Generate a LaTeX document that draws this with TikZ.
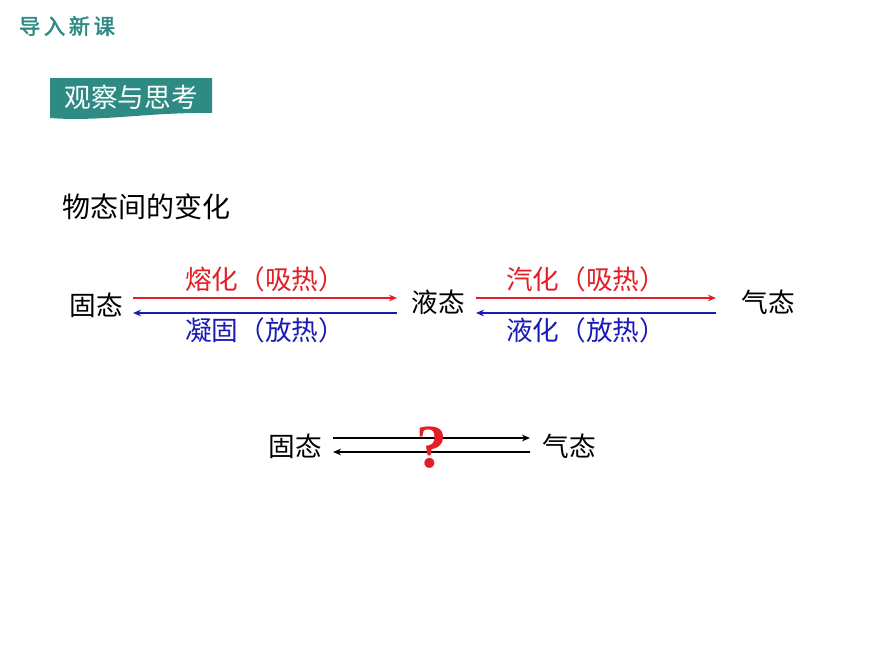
\documentclass[tikz,border=0pt]{standalone}
\usepackage{fontspec}
\setmainfont{Liberation Serif}
\newfontfamily\cjk{Noto Sans CJK SC}
\newfontfamily\cjkb{Noto Sans CJK SC}[FakeBold=2]
\definecolor{teal1}{HTML}{2E8B84}
\definecolor{myred}{HTML}{E31E24}
\definecolor{myblue}{HTML}{1A1AB8}
\tikzset{lbl/.style={font=\cjk\fontsize{20}{22}\selectfont,inner sep=0pt},
 ar/.style={-{Stealth[length=6pt,width=5pt]},line width=1.2pt}}
\usetikzlibrary{arrows.meta}
\begin{document}
\begin{tikzpicture}[x=0.75pt,y=-0.75pt]
\useasboundingbox (0,0) rectangle (870,653);
\node[font=\cjkb\fontsize{16}{17}\selectfont,text=teal1,inner sep=0pt] (hd) at (67,26) {导\,入\,新\,课};
\fill[teal1] (50,78) -- (212,78) -- (212,113) .. controls (150,112) and (100,122) .. (50,118) -- cycle;
\node[font=\cjk\fontsize{20}{22}\selectfont,text=white,inner sep=0pt] (tt) at (131,97) {观察与思考};
\node[lbl,font=\cjk\fontsize{21}{22}\selectfont,anchor=west] (t1) at (62,207) {物态间的变化};
\node[lbl] (g1) at (96,305) {固态};
\node[lbl] (y1) at (438,302) {液态};
\node[lbl] (q1) at (768,302) {气态};
\coordinate (a1) at (133,298); \coordinate (a2) at (397,298);
\coordinate (b1) at (133,313); \coordinate (b2) at (397,313);
\draw[ar,myred] (a1) -- (a2);
\draw[ar,myblue] (b2) -- (b1);
\node[lbl,text=myred] (l1) at (265,279) {熔化（吸热）};
\node[lbl,text=myblue] (l2) at (265,330) {凝固（放热）};
\coordinate (c1) at (476,298); \coordinate (c2) at (716,298);
\coordinate (d1) at (476,313); \coordinate (d2) at (716,313);
\draw[ar,myred] (c1) -- (c2);
\draw[ar,myblue] (d2) -- (d1);
\node[lbl,text=myred] (l3) at (586,279) {汽化（吸热）};
\node[lbl,text=myblue] (l4) at (586,330) {液化（放热）};
\node[lbl] (g2) at (295,446) {固态};
\node[lbl] (q2) at (569,446) {气态};
\coordinate (e1) at (333,438); \coordinate (e2) at (530,438);
\coordinate (f1) at (333,452); \coordinate (f2) at (530,452);
\draw[ar,line width=0.9pt] (e1) -- (e2);
\draw[ar,line width=0.9pt] (f2) -- (f1);
\node[font=\bfseries\fontsize{46}{46}\selectfont,text=myred,inner sep=0pt] (qm) at (432,448) {?};
\end{tikzpicture}
\end{document}
